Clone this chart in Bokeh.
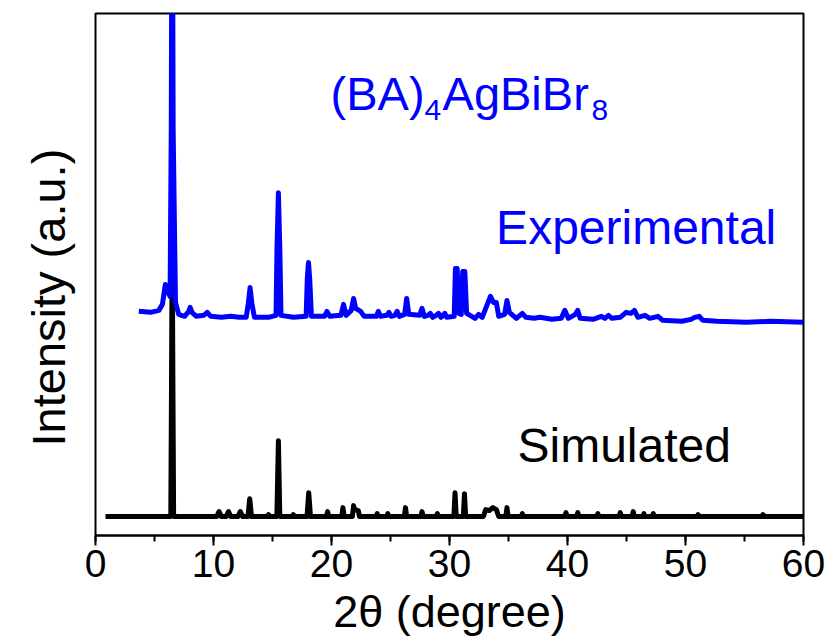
from bokeh.plotting import figure
from bokeh.models import Range1d, SingleIntervalTicker, Label, Title
from bokeh.embed import file_html
from bokeh.resources import INLINE

# ---- data (2theta in degrees, intensity in a.u.) ----
exp_2theta = [3.67, 4.67, 5.37, 5.67, 5.92, 6.12, 6.32, 6.42, 6.5, 6.58, 6.78, 7.05,
              7.55, 7.9, 8.02, 8.17, 8.55, 9.17, 9.47, 9.77, 10.67, 11.47, 12.17,
              12.77, 12.95, 13.1, 13.25, 13.47, 14.67, 15.3, 15.38, 15.5, 15.62, 15.72,
              16.77, 17.85, 17.95, 18.05, 18.15, 18.3, 19.4, 19.62, 19.85, 20.8, 21.02,
              21.25, 21.67, 21.87, 22.05, 22.47, 22.77, 23.8, 23.97, 24.15, 24.7, 24.87,
              25.05, 25.37, 25.57, 25.75, 26.2, 26.37, 26.55, 27.47, 27.67, 27.87, 28.17,
              28.37, 28.57, 28.87, 29.07, 29.27, 29.47, 29.6, 29.77, 30.4, 30.5, 30.65,
              30.8, 31.0, 31.12, 31.3, 31.45, 32.17, 32.47, 32.77, 33.07, 33.27, 33.47,
              33.72, 33.97, 34.17, 34.67, 34.87, 35.07, 35.67, 36.17, 36.47, 37.17, 37.67,
              38.67, 39.47, 39.77, 40.07, 40.67, 40.87, 41.07, 42.17, 42.87, 43.17, 43.47,
              43.77, 44.47, 44.97, 45.37, 45.67, 45.97, 46.57, 46.97, 47.67, 48.07, 49.67,
              50.47, 50.77, 51.17, 51.47, 52.67, 55.17, 57.17, 60.0]
exp_intensity = [225, 224, 226, 232, 252, 245, 240, 408, 750, 408, 234, 222,
                 220, 225, 229, 224, 220, 221, 224, 220, 219, 220, 219,
                 219, 233, 249, 233, 219, 219, 221, 288, 344, 288, 221,
                 219, 220, 258, 274, 258, 220, 220, 225, 220, 221, 232,
                 221, 226, 238, 228, 225, 220, 220, 225, 220, 221, 224,
                 220, 221, 225, 220, 222, 238, 222, 221, 228, 220, 221,
                 223, 219, 221, 223, 219, 221, 223, 219, 220, 268, 268,
                 223, 222, 265, 265, 223, 218, 222, 219, 228, 234, 240,
                 234, 234, 220, 222, 236, 224, 218, 223, 219, 218, 219,
                 217, 218, 226, 218, 222, 226, 218, 217, 220, 218, 221,
                 218, 219, 224, 223, 226, 219, 221, 218, 220, 216, 215,
                 217, 219, 220, 216, 215, 214, 215, 214]

sim_2theta = [0.85, 6.38, 6.44, 6.5, 6.56, 6.62,
              10.27, 10.47, 10.67, 11.07, 11.27, 11.47, 12.07, 12.27, 12.47,
              12.92, 13.07, 13.22, 14.57, 14.67, 14.77, 15.37, 15.5, 15.62,
              16.67, 16.77, 16.87, 17.92, 18.07, 18.22, 19.57, 19.67, 19.77,
              20.87, 20.97, 21.07, 21.77, 21.87, 21.97, 22.27, 22.37,
              23.77, 23.87, 23.97, 24.67, 24.77, 24.87, 26.17, 26.27, 26.37,
              27.57, 27.67, 27.77, 28.87, 28.97, 29.07, 30.37, 30.47, 30.57,
              31.17, 31.27, 31.37, 32.87, 33.07, 33.37, 33.67, 33.97, 34.17,
              34.77, 34.87, 34.97, 36.07, 36.17, 36.27, 39.77, 39.87, 39.97,
              40.77, 40.87, 40.97, 42.47, 42.57, 42.67, 44.37, 44.47, 44.57,
              45.47, 45.57, 45.67, 46.37, 46.47, 46.57, 47.17, 47.27, 47.37,
              50.97, 51.07, 51.17, 56.47, 56.57, 56.67, 60.0]
sim_intensity = [19, 19, 150, 300, 150, 19,
                 19, 24, 19, 19, 24, 19, 19, 24, 19,
                 19, 37, 19, 19, 21, 19, 19, 95, 19,
                 19, 21, 19, 19, 43, 19, 19, 24, 19,
                 19, 28, 19, 19, 30, 26, 25, 19,
                 19, 22, 19, 19, 22, 19, 19, 28, 19,
                 19, 24, 19, 19, 22, 19, 19, 43, 19,
                 19, 42, 19, 19, 26, 25, 28, 26, 19,
                 19, 28, 19, 19, 22, 19, 19, 23, 19,
                 19, 23, 19, 19, 22, 19, 19, 23, 19,
                 19, 24, 19, 19, 22, 19, 19, 22, 19,
                 19, 21, 19, 19, 21, 19, 19]

x_tick_interval = 10

FONT = "Liberation Sans"

p = figure(width=828, height=639, output_backend="svg", toolbar_location=None,
           x_range=Range1d(0, 60), y_range=Range1d(0, 524),
           min_border_left=95, min_border_right=25, min_border_top=13,
           min_border_bottom=102)
p.background_fill_color = "white"
p.border_fill_color = "white"
p.grid.visible = False
p.outline_line_color = "black"
p.outline_line_width = 2
p.yaxis.visible = False

xa = p.xaxis[0]
xa.ticker = SingleIntervalTicker(interval=x_tick_interval, num_minor_ticks=2)
xa.axis_line_width = 2
xa.major_tick_line_width = 2
xa.minor_tick_line_width = 2
xa.major_tick_in = 0
xa.major_tick_out = 10
xa.minor_tick_in = 0
xa.minor_tick_out = 6
xa.major_label_text_font = FONT
xa.major_label_text_font_size = "39px"
xa.major_label_text_color = "black"
xa.major_label_standoff = 4
xa.axis_label = "2\u03b8 (degree)"
xa.axis_label_text_font = FONT
xa.axis_label_text_font_size = "45px"
xa.axis_label_text_font_style = "normal"
xa.axis_label_text_color = "black"
xa.axis_label_standoff = 6

ytitle = Title(text="Intensity (a.u.)", align="left", offset=89, standoff=38,
               vertical_align="top",
               text_font=FONT, text_font_size="47px", text_font_style="normal",
               text_color="black")
p.add_layout(ytitle, "left")

p.line(sim_2theta, sim_intensity, line_color="black", line_width=5, line_join="round")
p.line(exp_2theta, exp_intensity, line_color="#0000FF", line_width=5, line_join="round")

def lab(x, y, t, size, color="black"):
    p.add_layout(Label(x=x, y=y, text=t, text_font=FONT, text_font_size=size,
                       text_color=color, text_align="left",
                       text_baseline="alphabetic", level="overlay"))

# formula title with subscripts
lab(19.92, 444, "(BA)", "47px", "#0000FF")
lab(27.88, 427, "4", "30px", "#0000FF")
lab(29.41, 444, "AgBiBr", "47px", "#0000FF")
lab(42.03, 427, "8", "30px", "#0000FF")

lab(33.95, 309, "Experimental", "48px", "#0000FF")
lab(35.76, 90, "Simulated", "48px", "black")

open("out.html", "w").write(file_html(p, INLINE))
